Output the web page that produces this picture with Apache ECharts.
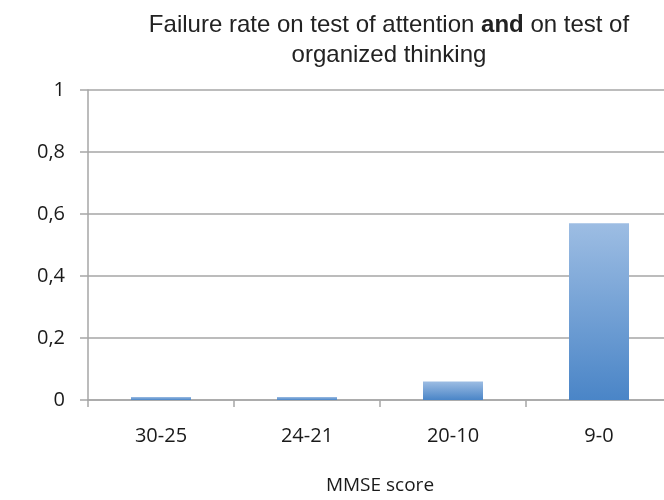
<!DOCTYPE html>
<html>
<head>
<meta charset="utf-8">
<script src="https://cdn.jsdelivr.net/npm/echarts@6/dist/echarts.min.js"></script>
<style>
  html, body { margin: 0; padding: 0; background: #fff; overflow: hidden; }
  #chart { width: 672px; height: 500px; }
</style>
</head>
<body>
<div id="chart"></div>
<script>
// MMSE score groups and failure rates
const categories = ['30-25', '24-21', '20-10', '9-0'];
const failureRate = [0.01, 0.01, 0.06, 0.57];
const yTicks = [0, 0.2, 0.4, 0.6, 0.8, 1];

const chart = echarts.init(document.getElementById('chart'), null, { renderer: 'canvas' });

const gray = '#a6a6a6';
const labelFont = 'Open Sans, Lato';
const titleFont = 'Liberation Sans, Arial';

chart.setOption({
  animation: false,
  title: {
    text: '{n|Failure rate on test of attention }{b|and}{n| on test of}\n{n|organized thinking}',
    left: 384,
    top: 5,
    textAlign: 'center',
    textStyle: {
      fontWeight: 'normal',
      rich: {
        n: { fontFamily: titleFont, fontSize: 24, fontWeight: 'normal', color: '#222', lineHeight: 30, align: 'center' },
        b: { fontFamily: titleFont, fontSize: 24, fontWeight: 'bold', color: '#222', lineHeight: 30 }
      }
    }
  },
  grid: { left: 88, right: 0, top: 90, bottom: 99 },
  xAxis: {
    type: 'category',
    data: categories,
    name: 'MMSE score',
    nameLocation: 'middle',
    nameGap: 76,
    nameTextStyle: { fontFamily: labelFont, fontSize: 19, color: '#1a1a1a' },
    axisLine: { show: true, lineStyle: { color: gray, width: 1.5 } },
    axisTick: { show: true, length: 7, lineStyle: { color: gray, width: 1.5 } },
    axisLabel: { margin: 26, fontFamily: labelFont, fontSize: 20, color: '#1a1a1a' }
  },
  yAxis: {
    type: 'value',
    min: 0,
    max: 1,
    interval: 0.2,
    axisLine: { show: true, lineStyle: { color: gray, width: 1.5 } },
    axisTick: { show: true, length: 8, lineStyle: { color: gray, width: 1.5 } },
    splitLine: { show: true, lineStyle: { color: gray, width: 1.5 } },
    axisLabel: {
      margin: 23,
      fontFamily: labelFont,
      fontSize: 20,
      color: '#1a1a1a',
      formatter: v => {
        const t = yTicks.find(k => Math.abs(k - v) < 1e-9);
        return String(t === undefined ? v : t).replace('.', ',');
      }
    }
  },
  series: [{
    type: 'bar',
    data: failureRate,
    barWidth: 60,
    itemStyle: {
      color: new echarts.graphic.LinearGradient(0, 0, 0, 1, [
        { offset: 0, color: '#9dbde3' },
        { offset: 1, color: '#4a85c7' }
      ])
    }
  }]
});
</script>
</body>
</html>
